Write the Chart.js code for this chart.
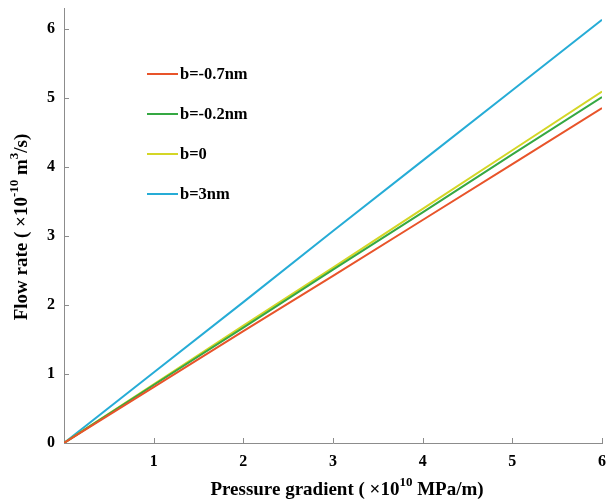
<!DOCTYPE html>
<html>
<head>
<meta charset="utf-8">
<script src="https://cdn.jsdelivr.net/npm/chart.js@4.4.0/dist/chart.umd.min.js"></script>
<style>
  html, body { margin: 0; padding: 0; background: #fff; }
  #wrap { width: 610px; height: 500px; }
</style>
</head>
<body>
<div id="wrap"><canvas id="myChart" width="610" height="500"></canvas></div>
<script>
// valori
const pressure = [0, 1, 2, 3, 4, 5, 6];
const flowNeg07 = [0, 0.81, 1.62, 2.42, 3.23, 4.04, 4.85];
const flowNeg02 = [0, 0.84, 1.67, 2.51, 3.34, 4.18, 5.01];
const flowZero = [0, 0.85, 1.70, 2.54, 3.39, 4.24, 5.09];
const flow3nm = [0, 1.02, 2.04, 3.07, 4.09, 5.11, 6.13];
const labels = ['b=-0.7nm', 'b=-0.2nm', 'b=0', 'b=3nm'];
const colors = ['#E8542A', '#35A843', '#D4D626', '#26ACD6'];
const xTicks = [1, 2, 3, 4, 5, 6];
const yTicks = [0, 1, 2, 3, 4, 5, 6];

const font = 'bold 16.5px "Liberation Serif", "Times New Roman", serif';
const axisGray = '#8c8c8c';

function toPoints(ys) {
  return pressure.map((x, i) => ({ x: x, y: ys[i] }));
}

// testo con apici
function drawRich(ctx, parts, x, y) {
  const big = 'bold 19px "Liberation Serif", serif';
  const small = 'bold 13px "Liberation Serif", serif';
  let w = 0;
  parts.forEach(p => { ctx.font = p.sup ? small : big; w += ctx.measureText(p.t).width; });
  let cx = x - w / 2;
  ctx.textBaseline = 'middle';
  ctx.textAlign = 'left';
  parts.forEach(p => {
    ctx.font = p.sup ? small : big;
    ctx.fillText(p.t, cx, p.sup ? y - 7 : y);
    cx += ctx.measureText(p.t).width;
  });
}

const extras = {
  id: 'extras',
  afterDraw(chart) {
    const ctx = chart.ctx;
    const xs = chart.scales.x, ys = chart.scales.y;
    ctx.save();
    // tacche verso l'interno
    ctx.strokeStyle = axisGray;
    ctx.lineWidth = 1;
    xTicks.forEach(v => {
      const px = Math.round(xs.getPixelForValue(v)) + 0.5;
      ctx.beginPath(); ctx.moveTo(px, ys.bottom); ctx.lineTo(px, ys.bottom - 5); ctx.stroke();
    });
    yTicks.forEach(v => {
      const py = Math.round(ys.getPixelForValue(v)) + 0.5;
      ctx.beginPath(); ctx.moveTo(xs.left, py); ctx.lineTo(xs.left + 5, py); ctx.stroke();
    });
    // legenda
    const ly = [74, 114, 154, 194];
    chart.data.datasets.forEach((ds, i) => {
      ctx.strokeStyle = ds.borderColor;
      ctx.lineWidth = 2;
      ctx.beginPath(); ctx.moveTo(147, ly[i]); ctx.lineTo(178, ly[i]); ctx.stroke();
      ctx.fillStyle = '#000';
      ctx.font = font;
      ctx.textAlign = 'left';
      ctx.textBaseline = 'middle';
      ctx.fillText(ds.label, 180, ly[i] + 1);
    });
    // titoli degli assi
    ctx.fillStyle = '#000';
    drawRich(ctx, [{ t: 'Pressure gradient ( ×10' }, { t: '10', sup: true }, { t: ' MPa/m)' }], 347, 490);
    ctx.translate(22, 227);
    ctx.rotate(-Math.PI / 2);
    drawRich(ctx, [{ t: 'Flow rate ( ×10' }, { t: '-10', sup: true }, { t: ' m' }, { t: '3', sup: true }, { t: '/s)' }], 0, 0);
    ctx.restore();
  }
};

const ctx = document.getElementById('myChart').getContext('2d');
const myChart = new Chart(ctx, {
  type: 'line',
  data: {
    datasets: [flowNeg07, flowNeg02, flowZero, flow3nm].map((d, i) => ({
      label: labels[i],
      data: toPoints(d),
      borderColor: colors[i],
      backgroundColor: colors[i],
      borderWidth: 2,
      pointRadius: 0,
      fill: false,
      tension: 0
    }))
  },
  options: {
    responsive: false,
    animation: false,
    layout: { padding: { top: 8, right: 8, left: 0, bottom: 0 } },
    plugins: { legend: { display: false }, tooltip: { enabled: false } },
    scales: {
      x: {
        type: 'linear',
        min: 0,
        max: 6,
        afterBuildTicks: s => { s.ticks = xTicks.map(v => ({ value: v })); },
        afterFit: s => { s.height = 57; s.paddingLeft = 0; s.paddingRight = 0; },
        grid: { display: false, drawTicks: false },
        border: { display: true, color: axisGray, width: 1 },
        ticks: { padding: 9, color: '#000', font: { family: '"Liberation Serif", serif', size: 16, weight: 'bold' } }
      },
      y: {
        min: 0,
        max: 6.3,
        afterBuildTicks: s => { s.ticks = yTicks.map(v => ({ value: v })); },
        afterFit: s => { s.width = 64; s.paddingTop = 0; s.paddingBottom = 0; },
        grid: { display: false, drawTicks: false },
        border: { display: true, color: axisGray, width: 1 },
        ticks: { padding: 9, color: '#000', font: { family: '"Liberation Serif", serif', size: 16, weight: 'bold' } }
      }
    }
  },
  plugins: [extras]
});
</script>
</body>
</html>
